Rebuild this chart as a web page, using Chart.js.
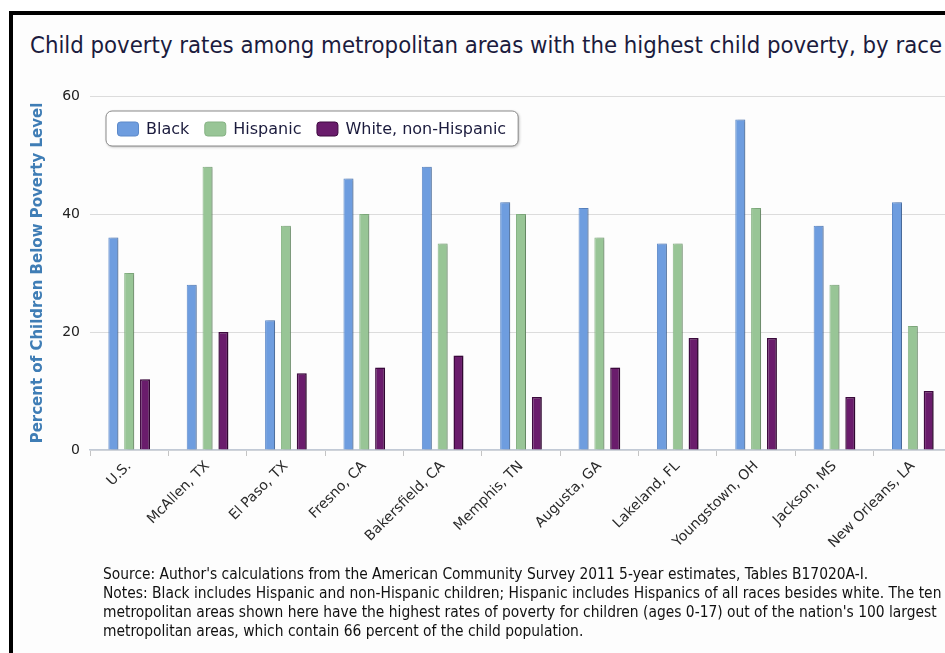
<!DOCTYPE html>
<html>
<head>
<meta charset="utf-8">
<script src="https://cdn.jsdelivr.net/npm/chart.js@4.4.0/dist/chart.umd.min.js"></script>
<style>
  html, body { margin: 0; padding: 0; width: 945px; height: 653px; overflow: hidden; background: #ffffff; }
  #frame { position: absolute; left: 9px; top: 11px; width: 1000px; height: 1000px;
           border-top: 4px solid #000; border-left: 4px solid #000; background: #fdfdfd; }
  #title { position: absolute; left: 30px; top: 31px; font-family: "DejaVu Sans Condensed", "DejaVu Sans", sans-serif;
           font-size: 23.7px; color: #1b1b3d; white-space: nowrap; }
  #wrap { position: absolute; left: 0; top: 0; width: 960px; height: 653px; }
  #notes { position: absolute; left: 103px; top: 565px; font-family: "DejaVu Sans Condensed", "DejaVu Sans", sans-serif;
           font-size: 15.4px; line-height: 19px; color: #111; white-space: nowrap; }
</style>
</head>
<body>
<div id="frame"></div>
<div id="title">Child poverty rates among metropolitan areas with the highest child poverty, by race</div>
<div id="wrap"><canvas id="c" width="960" height="653"></canvas></div>
<div id="notes">
  <div>Source: Author's calculations from the American Community Survey 2011 5-year estimates, Tables B17020A-I.</div>
  <div>Notes: Black includes Hispanic and non-Hispanic children; Hispanic includes Hispanics of all races besides white. The ten</div>
  <div>metropolitan areas shown here have the highest rates of poverty for children (ages 0-17) out of the nation's 100 largest</div>
  <div>metropolitan areas, which contain 66 percent of the child population.</div>
</div>
<script>
const categories = ['U.S.', 'McAllen, TX', 'El Paso, TX', 'Fresno, CA', 'Bakersfield, CA', 'Memphis, TN',
                    'Augusta, GA', 'Lakeland, FL', 'Youngstown, OH', 'Jackson, MS', 'New Orleans, LA'];
const black    = [36, 28, 22, 46, 48, 42, 41, 35, 56, 38, 42];
const hispanic = [30, 48, 38, 40, 35, 40, 36, 35, 41, 28, 21];
const whiteNH  = [12, 20, 13, 14, 16,  9, 14, 19, 19,  9, 10];
const seriesNames = ['Black', 'Hispanic', 'White, non-Hispanic'];
const yTickValues = [0, 20, 40, 60];
const yAxisTitle = 'Percent of Children Below Poverty Level';

const fills   = ['#6e9ddf', '#98c596', '#6a1c6c'];
const borders = ['#5c89c9', '#86b384', '#3f0a40'];

const shadowPlugin = {
  id: 'barShadow',
  beforeDatasetsDraw(chart) {
    const ctx = chart.ctx;
    ctx.save();
    ctx.shadowColor = 'rgba(0,0,0,0.25)';
    ctx.shadowBlur = 2;
    ctx.shadowOffsetX = 2.5;
    ctx.shadowOffsetY = 0;
  },
  afterDatasetsDraw(chart) { chart.ctx.restore(); }
};

const boxLegend = {
  id: 'boxLegend',
  afterDraw(chart) {
    const ctx = chart.ctx;
    const x0 = 106, y0 = 111, h = 35;
    const font = '16px "DejaVu Sans", sans-serif';
    ctx.save();
    ctx.font = font;
    const sw = 21, sh = 14, gapText = 8, gapItem = 15, padL = 11, padR = 12;
    let w = padL;
    chart.data.datasets.forEach((ds, i) => {
      w += sw + gapText + ctx.measureText(ds.label).width;
      if (i < chart.data.datasets.length - 1) w += gapItem;
    });
    w += padR;
    ctx.shadowColor = 'rgba(0,0,0,0.3)';
    ctx.shadowBlur = 3;
    ctx.shadowOffsetX = 1;
    ctx.shadowOffsetY = 1;
    ctx.beginPath();
    ctx.roundRect(x0, y0, w, h, 6);
    ctx.fillStyle = '#ffffff';
    ctx.fill();
    ctx.shadowColor = 'transparent';
    ctx.lineWidth = 1;
    ctx.strokeStyle = '#8a8a8a';
    ctx.stroke();
    let x = x0 + padL;
    const cy = y0 + h / 2;
    chart.data.datasets.forEach((ds, i) => {
      ctx.beginPath();
      ctx.roundRect(x + 0.5, cy - sh / 2 + 0.5, sw, sh, 3);
      ctx.fillStyle = ds.backgroundColor;
      ctx.fill();
      ctx.strokeStyle = ds.borderColor;
      ctx.stroke();
      x += sw + gapText;
      ctx.fillStyle = '#1b1b3d';
      ctx.textBaseline = 'middle';
      ctx.textAlign = 'left';
      ctx.fillText(ds.label, x, cy + 1);
      x += ctx.measureText(ds.label).width + gapItem;
    });
    ctx.restore();
  }
};

new Chart(document.getElementById('c'), {
  type: 'bar',
  data: {
    labels: categories,
    datasets: [
      { label: seriesNames[0], data: black,    backgroundColor: fills[0], borderColor: borders[0], borderWidth: 1 },
      { label: seriesNames[1], data: hispanic, backgroundColor: fills[1], borderColor: borders[1], borderWidth: 1 },
      { label: seriesNames[2], data: whiteNH,  backgroundColor: fills[2], borderColor: borders[2], borderWidth: 1.5 }
    ]
  },
  options: {
    responsive: false,
    animation: false,
    devicePixelRatio: 1,
    layout: { padding: { top: 96, right: 8, bottom: 93, left: 0 } },
    datasets: { bar: { categoryPercentage: 0.606, barPercentage: 0.63 } },
    plugins: { legend: { display: false }, tooltip: { enabled: false }, title: { display: false } },
    scales: {
      x: {
        grid: { display: true, drawOnChartArea: false, drawTicks: true, tickLength: 6, color: '#c4c4c4', offset: true },
        border: { display: true, color: '#c2cad6', width: 1.5 },
        ticks: { minRotation: 45, maxRotation: 45, padding: 2, color: '#2a2a2a',
                 font: { family: '"DejaVu Sans", sans-serif', size: 14 } },
        afterFit(scale) { scale.height = 110; }
      },
      y: {
        min: yTickValues[0],
        max: yTickValues[yTickValues.length - 1],
        afterBuildTicks(scale) { scale.ticks = yTickValues.map(v => ({ value: v })); },
        grid: { color: '#dcdcdc', lineWidth: 1, drawTicks: false },
        border: { display: false },
        ticks: { padding: 10, color: '#222', font: { family: '"DejaVu Sans", sans-serif', size: 14 } },
        title: { display: true, text: yAxisTitle, color: '#3f7db5', padding: { top: 29, bottom: 0 },
                 font: { family: '"DejaVu Sans", sans-serif', size: 15, weight: 'bold' } },
        afterFit(scale) { scale.width = 90; }
      }
    }
  },
  plugins: [shadowPlugin, boxLegend]
});
</script>
</body>
</html>
